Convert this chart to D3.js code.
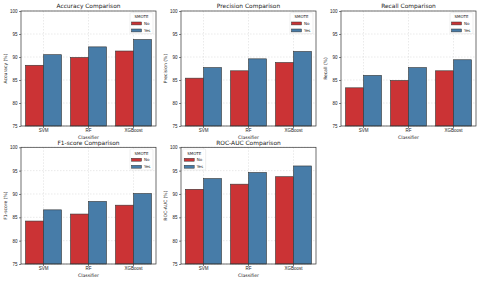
<!DOCTYPE html>
<html>
<head>
<meta charset="utf-8">
<script src="https://cdn.jsdelivr.net/npm/d3@7"></script>
<style>
  body { margin: 0; background: #fff; }
  svg { display: block; font-family: "DejaVu Sans", sans-serif; }
</style>
</head>
<body>
<svg id="chart" width="480" height="281"></svg>
<script>
const classifiers = ["SVM", "RF", "XGBoost"];
const smoteLevels = ["No", "Yes"];
const yTicks = [75, 80, 85, 90, 95, 100];

// values in %, [No, Yes] per classifier
const accuracy = [[88.2, 90.5], [89.9, 92.2], [91.3, 93.8]];
const precision = [[85.4, 87.7], [87.0, 89.6], [88.8, 91.2]];
const recall = [[83.3, 86.0], [84.9, 87.7], [87.0, 89.4]];
const f1 = [[84.2, 86.6], [85.7, 88.4], [87.6, 90.1]];
const rocAuc = [[91.0, 93.3], [92.1, 94.6], [93.7, 96.0]];

const panels = [
  { title: "Accuracy Comparison", ylab: "Accuracy (%)", data: accuracy, legend: "right" },
  { title: "Precision Comparison", ylab: "Precision (%)", data: precision, legend: "right" },
  { title: "Recall Comparison", ylab: "Recall (%)", data: recall, legend: "right" },
  { title: "F1-score Comparison", ylab: "F1-score (%)", data: f1, legend: "right" },
  { title: "ROC-AUC Comparison", ylab: "ROC-AUC (%)", data: rocAuc, legend: "left" },
];

const colors = { No: "#cb3335", Yes: "#477ca8" };
const svg = d3.select("#chart");

// plot-area boxes, matplotlib style 2x3 grid
const colLeft = [21, 181, 341];
const rowTop = [11, 147.3];
const rowBottom = [126, 264];
const plotW = 135;

panels.forEach((p, i) => {
  const col = i % 3, row = Math.floor(i / 3);
  const x0 = colLeft[col], y0 = rowTop[row];
  const h = rowBottom[row] - y0;

  const g = svg.append("g").attr("transform", `translate(${x0},${y0})`);

  const x = d3.scaleBand().domain(classifiers).range([0, plotW])
    .paddingInner(0.2).paddingOuter(0.1);
  const xs = d3.scaleBand().domain(smoteLevels).range([0, x.bandwidth()]);
  const y = d3.scaleLinear().domain([75, 100]).range([h, 0]);

  // grid
  g.append("g").selectAll("line").data(yTicks).join("line")
    .attr("x1", 0).attr("x2", plotW)
    .attr("y1", d => y(d)).attr("y2", d => y(d))
    .attr("stroke", "#d4d4d4").attr("stroke-width", 0.5)
    .attr("stroke-dasharray", "1.5,1.5");
  g.append("g").selectAll("line").data(classifiers).join("line")
    .attr("x1", d => x(d) + x.bandwidth() / 2).attr("x2", d => x(d) + x.bandwidth() / 2)
    .attr("y1", 0).attr("y2", h)
    .attr("stroke", "#d4d4d4").attr("stroke-width", 0.5)
    .attr("stroke-dasharray", "1.5,1.5");

  // bars
  const bars = p.data.flatMap((vals, ci) =>
    vals.map((v, si) => ({ cls: classifiers[ci], smote: smoteLevels[si], value: v }))
  );
  g.append("g").selectAll("rect").data(bars).join("rect")
    .attr("x", d => x(d.cls) + xs(d.smote))
    .attr("y", d => y(d.value))
    .attr("width", xs.bandwidth())
    .attr("height", d => h - y(d.value))
    .attr("fill", d => colors[d.smote])
    .attr("stroke", "#333").attr("stroke-width", 0.6);

  // axes
  const yAxis = g.append("g")
    .call(d3.axisLeft(y).tickValues(yTicks).tickSize(2).tickPadding(1.6));
  const xAxis = g.append("g").attr("transform", `translate(0,${h})`)
    .call(d3.axisBottom(x).tickSize(2).tickPadding(1.2));
  [yAxis, xAxis].forEach(a => {
    a.select(".domain").remove();
    a.selectAll("line").attr("stroke", "#333").attr("stroke-width", 0.6);
    a.selectAll("text").attr("fill", "#222").style("font-size", "4.5px");
  });

  // frame
  g.append("rect").attr("width", plotW).attr("height", h)
    .attr("fill", "none").attr("stroke", "#333").attr("stroke-width", 0.7);

  // title and labels
  g.append("text").attr("x", plotW / 2).attr("y", row === 0 ? -3 : -2.6)
    .attr("text-anchor", "middle").style("font-size", "5.9px").attr("fill", "#222")
    .text(p.title);
  g.append("text").attr("x", plotW / 2).attr("y", h + 12.6)
    .attr("text-anchor", "middle").style("font-size", "4.6px").attr("fill", "#222")
    .text("Classifier");
  g.append("text")
    .attr("transform", `translate(-14.3,${h / 2}) rotate(-90)`)
    .attr("text-anchor", "middle").style("font-size", "4.5px").attr("fill", "#222")
    .text(p.ylab);

  // legend
  const lw = 23, lh = 21;
  const lx = p.legend === "right" ? plotW - lw - 3 : 1.7;
  const leg = g.append("g").attr("transform", `translate(${lx},1.7)`);
  leg.append("rect").attr("width", lw).attr("height", lh).attr("rx", 1)
    .attr("fill", "#fff").attr("fill-opacity", 0.8)
    .attr("stroke", "#dcdcdc").attr("stroke-width", 0.5);
  leg.append("text").attr("x", lw / 2).attr("y", 5.8)
    .attr("text-anchor", "middle").style("font-size", "4px").attr("fill", "#222")
    .text("SMOTE");
  smoteLevels.forEach((s, k) => {
    const ly = 9.3 + k * 7;
    leg.append("rect").attr("x", 1.5).attr("y", ly).attr("width", 10).attr("height", 2.9)
      .attr("fill", colors[s]).attr("stroke", "#333").attr("stroke-width", 0.5);
    leg.append("text").attr("x", 14).attr("y", ly + 2.9)
      .style("font-size", "4px").attr("fill", "#222").text(s);
  });
});
</script>
</body>
</html>
